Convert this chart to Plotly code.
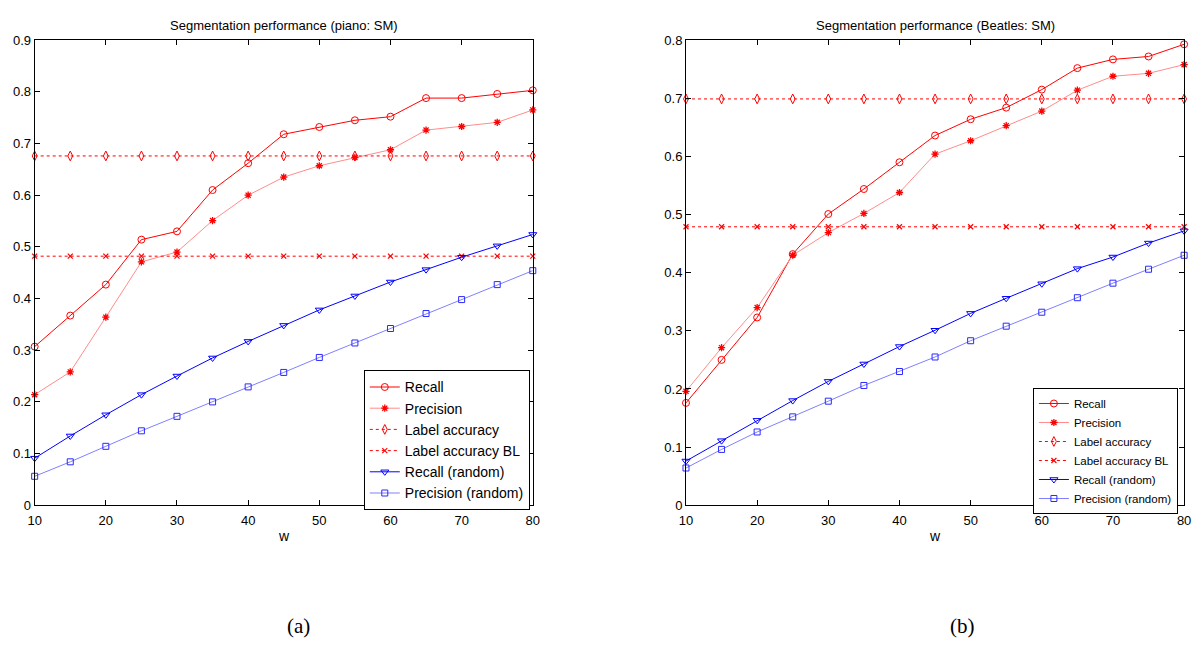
import plotly.graph_objects as go

w = [10, 15, 20, 25, 30, 35, 40, 45, 50, 55, 60, 65, 70, 75, 80]

# (a) piano: SM
a_recall = [0.307, 0.367, 0.427, 0.514, 0.530, 0.610, 0.662, 0.718, 0.732, 0.745, 0.752, 0.788, 0.788, 0.796, 0.803]
a_precision = [0.214, 0.258, 0.364, 0.471, 0.490, 0.551, 0.600, 0.635, 0.657, 0.673, 0.688, 0.726, 0.733, 0.741, 0.765]
a_label_acc = [0.676] * 15
a_label_acc_bl = [0.482] * 15
a_recall_rand = [0.091, 0.134, 0.175, 0.214, 0.250, 0.285, 0.317, 0.348, 0.378, 0.405, 0.432, 0.456, 0.480, 0.502, 0.524]
a_precision_rand = [0.056, 0.084, 0.114, 0.144, 0.172, 0.200, 0.229, 0.257, 0.286, 0.314, 0.342, 0.371, 0.398, 0.427, 0.454]

# (b) Beatles: SM
b_recall = [0.176, 0.250, 0.323, 0.432, 0.501, 0.544, 0.590, 0.636, 0.664, 0.684, 0.715, 0.752, 0.767, 0.772, 0.793]
b_precision = [0.196, 0.271, 0.340, 0.430, 0.469, 0.502, 0.538, 0.604, 0.627, 0.653, 0.678, 0.714, 0.738, 0.743, 0.758]
b_label_acc = [0.699] * 15
b_label_acc_bl = [0.479] * 15
b_recall_rand = [0.076, 0.111, 0.146, 0.180, 0.213, 0.243, 0.273, 0.301, 0.330, 0.356, 0.381, 0.407, 0.427, 0.451, 0.472]
b_precision_rand = [0.064, 0.096, 0.126, 0.152, 0.179, 0.206, 0.230, 0.255, 0.283, 0.308, 0.332, 0.357, 0.382, 0.406, 0.430]

names = ["Recall", "Precision", "Label accuracy", "Label accuracy BL", "Recall (random)", "Precision (random)"]
titles = ["Segmentation performance (piano: SM)", "Segmentation performance (Beatles: SM)"]
panel_labels = ["(a)", "(b)"]

styles = [
    dict(line=dict(color="#ff0000", width=1), marker=dict(symbol="circle-open", size=7, color="#ff0000", line=dict(width=1))),
    dict(line=dict(color="#ff8c8c", width=1), marker=dict(symbol="asterisk-open", size=6, color="#ff0000", line=dict(width=1.3))),
    dict(line=dict(color="#ff0000", width=1, dash="dot"), marker=dict(symbol="diamond-tall-open", size=7, color="#ff0000", line=dict(width=1))),
    dict(line=dict(color="#ff0000", width=1, dash="dot"), marker=dict(symbol="x-thin-open", size=5, color="#ff0000", line=dict(width=1.2))),
    dict(line=dict(color="#0000ff", width=1), marker=dict(symbol="triangle-down-open", size=7, color="#0000ff", line=dict(width=1))),
    dict(line=dict(color="#8080ff", width=1), marker=dict(symbol="square-open", size=6, color="#2a2aff", line=dict(width=1))),
]

fig = go.Figure()
panels = [
    ([a_recall, a_precision, a_label_acc, a_label_acc_bl, a_recall_rand, a_precision_rand], "x", "y", "legend"),
    ([b_recall, b_precision, b_label_acc, b_label_acc_bl, b_recall_rand, b_precision_rand], "x2", "y2", "legend2"),
]
for series, xa, ya, lg in panels:
    for name, vals, st in zip(names, series, styles):
        fig.add_trace(go.Scatter(x=w, y=vals, name=name, mode="lines+markers", xaxis=xa, yaxis=ya,
                                 legend=lg, cliponaxis=False, line=st["line"], marker=st["marker"]))

font = "Liberation Sans, Arial, sans-serif"
axis_common = dict(showline=True, linecolor="black", linewidth=1, mirror="ticks", ticks="inside",
                   ticklen=5, tickcolor="black", showgrid=False, zeroline=False,
                   tickfont=dict(family=font, size=13, color="black"))

H = 649
W = 1201
ydom = [(649 - 510) / H, (649 - 34) / H]
fig.update_layout(
    width=W, height=H, margin=dict(l=0, r=0, t=0, b=0),
    paper_bgcolor="white", plot_bgcolor="white",
    font=dict(family=font, color="black"),
    xaxis=dict(domain=[28 / W, 532 / W], range=[10, 80], tickvals=list(range(10, 81, 10)), anchor="y",
               ticklabelstandoff=3, **axis_common),
    yaxis=dict(domain=ydom, range=[0, 0.9], tickvals=[i / 10 for i in range(10)],
               ticktext=["0"] + [f"{i/10:.1f}" for i in range(1, 10)], anchor="x", **axis_common),
    xaxis2=dict(domain=[687 / W, 1191 / W], range=[10, 80], tickvals=list(range(10, 81, 10)), anchor="y2",
                ticklabelstandoff=3, **axis_common),
    yaxis2=dict(domain=ydom, range=[0, 0.8], tickvals=[i / 10 for i in range(9)],
                ticktext=["0"] + [f"{i/10:.1f}" for i in range(1, 9)], anchor="x2", **axis_common),
    legend=dict(x=361 / W, y=1 - 372 / H, xanchor="left", yanchor="top", bgcolor="white",
                bordercolor="black", borderwidth=1, font=dict(family=font, size=14, color="black"),
                tracegroupgap=0, itemwidth=30),
    legend2=dict(x=1038 / W, y=1 - 390 / H, xanchor="left", yanchor="top", bgcolor="white",
                 bordercolor="black", borderwidth=1, font=dict(family=font, size=11.5, color="black"),
                 tracegroupgap=0, itemwidth=30),
    showlegend=True,
)

ann = []
for cx, lx, t, p in [(280, 295, titles[0], panel_labels[0]), (939, 967, titles[1], panel_labels[1])]:
    ann.append(dict(x=cx / W, y=1 - 19 / H, xref="paper", yref="paper", text=t, showarrow=False,
                    font=dict(family=font, size=13, color="black"), xanchor="center", yanchor="middle"))
    ann.append(dict(x=cx / W, y=1 - 542 / H, xref="paper", yref="paper", text="w", showarrow=False,
                    font=dict(family=font, size=14, color="black"), xanchor="center", yanchor="middle"))
    ann.append(dict(x=lx / W, y=1 - 634 / H, xref="paper", yref="paper", text=p, showarrow=False,
                    font=dict(family="Liberation Serif, Times New Roman, serif", size=21, color="black"),
                    xanchor="center", yanchor="middle"))
fig.update_layout(annotations=ann)

fig.write_html("out.html")
